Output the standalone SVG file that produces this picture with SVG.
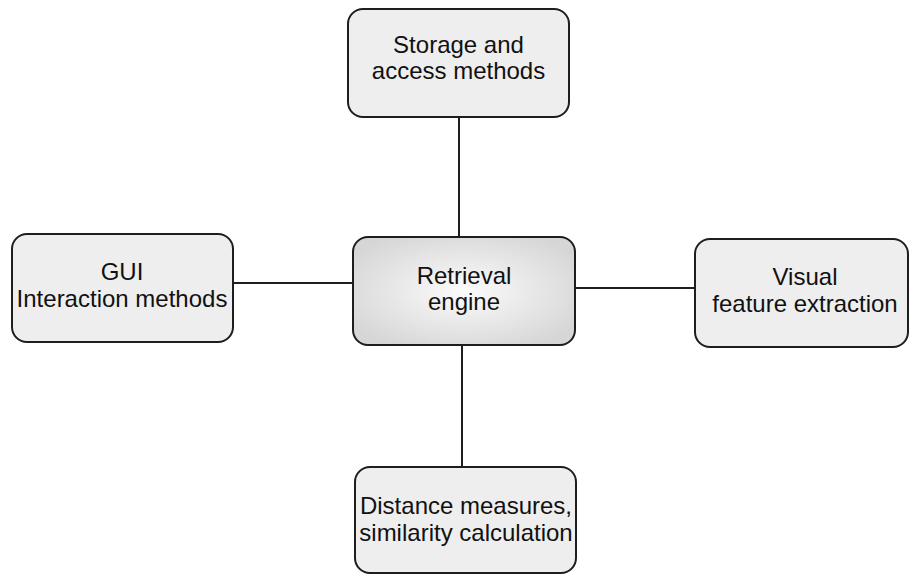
<svg xmlns="http://www.w3.org/2000/svg" width="909" height="574" viewBox="0 0 909 574">
<defs>
<radialGradient id="g" cx="50%" cy="50%" r="60%">
<stop offset="0" stop-color="#fbfbfb"/>
<stop offset="1" stop-color="#d6d6d6"/>
</radialGradient>
<style>
.box{fill:#eeeeee;stroke:#1e1e1e;stroke-width:2}
.t{font-family:"Liberation Sans",Arial,sans-serif;font-size:24px;fill:#111;text-anchor:middle}
.c{stroke:#1e1e1e;stroke-width:2;fill:none}
</style>
</defs>
<rect width="909" height="574" fill="#fff"/>
<g id="connectors">
<line class="c" x1="459" y1="117" x2="459" y2="237"/>
<line class="c" x1="233" y1="283" x2="353" y2="283"/>
<line class="c" x1="575" y1="288" x2="695" y2="288"/>
<line class="c" x1="462" y1="345" x2="462" y2="467"/>
</g>
<g id="storage">
<rect class="box" x="348" y="9" width="221" height="108" rx="15"/>
<text class="t" x="458.5" y="53">Storage and</text>
<text class="t" x="458.5" y="79">access methods</text>
</g>
<g id="engine">
<rect class="box" x="353" y="237" width="222" height="108" rx="15" fill="url(#g)" style="fill:url(#g)"/>
<text class="t" x="464" y="284">Retrieval</text>
<text class="t" x="464" y="310">engine</text>
</g>
<g id="gui">
<rect class="box" x="12" y="234" width="221" height="108" rx="15"/>
<text class="t" x="122" y="280">GUI</text>
<text class="t" x="122" y="307">Interaction methods</text>
</g>
<g id="visual">
<rect class="box" x="695" y="239" width="213" height="108" rx="15"/>
<text class="t" x="805" y="285">Visual</text>
<text class="t" x="805" y="312">feature extraction</text>
</g>
<g id="distance">
<rect class="box" x="355" y="467" width="221" height="106" rx="15"/>
<text class="t" x="466" y="514">Distance measures,</text>
<text class="t" x="466" y="541">similarity calculation</text>
</g>
</svg>
